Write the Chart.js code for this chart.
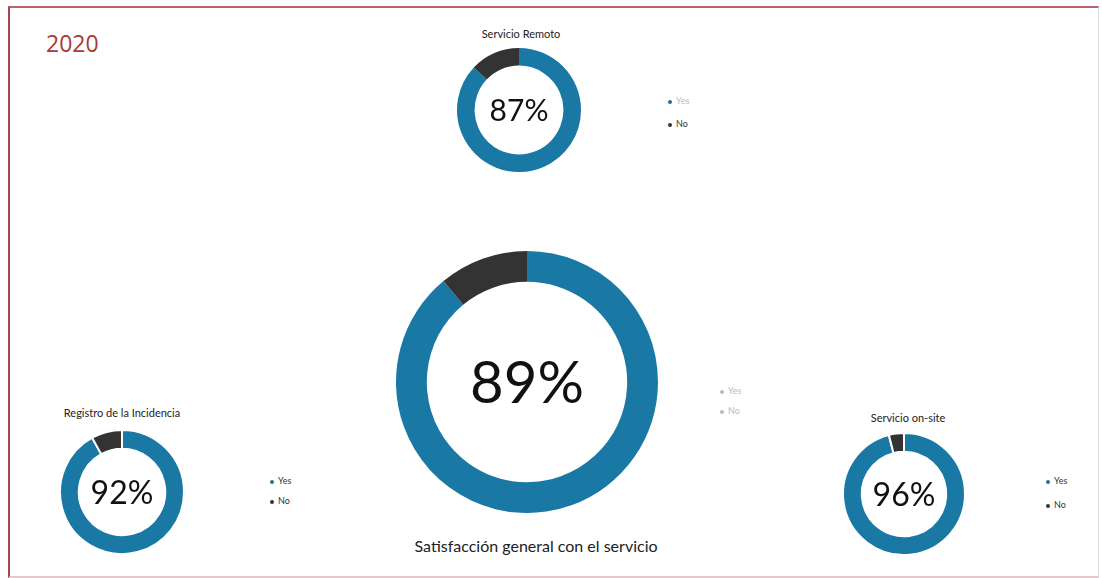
<!DOCTYPE html>
<html lang="es">
<head>
    <meta charset="UTF-8">
    <title>Satisfacción 2020</title>
    <script src="https://cdn.jsdelivr.net/npm/chart.js"></script>
    <style>
        body { margin: 0; background: #fff; font-family: 'Lato', sans-serif; }
        #page { position: relative; width: 1102px; height: 578px; overflow: hidden; background: #fff; }
        #frame { position: absolute; left: 8px; top: 6px; width: 1088px; height: 568px;
                 border-left: 2px solid #a64555; border-top: 2px solid #b8636f;
                 border-right: 1px solid #ddd; border-bottom: 2px solid #e6c9cd; }
        #year { position: absolute; left: 46px; top: 27px; font-family: 'Open Sans', sans-serif;
                font-size: 23px; color: #a63a3c; }
        .ring { position: absolute; }
        .title { position: absolute; transform: translate(-50%, -50%); white-space: nowrap; color: #222; }
        .legend { position: absolute; font-size: 9px; line-height: 9px; }
        .legend div { position: absolute; white-space: nowrap; }
        .legend span { display: inline-block; width: 4px; height: 4px; border-radius: 50%; margin-right: 4px; vertical-align: middle; }
    </style>
</head>
<body>
<div id="page">
    <div id="frame"></div>
    <div id="year">2020</div>
</div>

<script>
    // Data
    const categories = ['Yes', 'No'];
    const remotoValues = [87, 13];
    const generalValues = [89, 11];
    const registroValues = [92, 8];
    const onsiteValues = [96, 4];
    const titles = ['Servicio Remoto', 'Satisfacción general con el servicio', 'Registro de la Incidencia', 'Servicio on-site'];

    const BLUE = '#1a78a5';
    const DARK = '#333333';

    const page = document.getElementById('page');

    // draws the big percentage in the hole
    const centerText = {
        id: 'centerText',
        afterDraw(chart, args, opts) {
            const arc = chart.getDatasetMeta(0).data[0];
            const ctx = chart.ctx;
            ctx.save();
            ctx.font = opts.size + 'px Lato';
            ctx.fillStyle = '#111';
            ctx.textAlign = 'center';
            ctx.textBaseline = 'middle';
            ctx.fillText(chart.data.datasets[0].data[0] + '%', arc.x, arc.y + opts.size * 0.04);
            ctx.restore();
        }
    };

    function addRing(values, cx, cy, r, inner, border, textSize) {
        const size = r * 2 + 10;
        const c = document.createElement('canvas');
        c.className = 'ring';
        c.width = size; c.height = size;
        c.style.left = (cx - size / 2) + 'px';
        c.style.top = (cy - size / 2) + 'px';
        c.style.width = size + 'px';
        c.style.height = size + 'px';
        page.appendChild(c);
        new Chart(c, {
            type: 'doughnut',
            data: {
                labels: categories,
                datasets: [{
                    data: values,
                    backgroundColor: [BLUE, DARK],
                    borderColor: '#fff',
                    borderWidth: border,
                    hoverOffset: 0
                }]
            },
            options: {
                responsive: false,
                animation: false,
                radius: r,
                cutout: inner,
                layout: { padding: 0 },
                plugins: {
                    legend: { display: false },
                    tooltip: { enabled: false },
                    centerText: { size: textSize }
                }
            },
            plugins: [centerText]
        });
    }

    function addTitle(text, x, y, size) {
        const d = document.createElement('div');
        d.className = 'title';
        d.textContent = text;
        d.style.left = x + 'px';
        d.style.top = y + 'px';
        d.style.fontSize = size + 'px';
        page.appendChild(d);
    }

    function addLegend(x, y, gap, faded) {
        const l = document.createElement('div');
        l.className = 'legend';
        l.style.left = x + 'px';
        l.style.top = y + 'px';
        categories.forEach((name, i) => {
            const row = document.createElement('div');
            row.style.top = (i * gap) + 'px';
            const dot = document.createElement('span');
            dot.style.background = faded ? '#bbb' : (i === 0 ? '#2a6f8f' : '#333');
            row.appendChild(dot);
            row.appendChild(document.createTextNode(name));
            row.style.color = faded || (faded === null && i === 0) ? '#bbb' : '#333';
            l.appendChild(row);
        });
        page.appendChild(l);
    }

    addRing(remotoValues, 519, 110, 62, 48, 0, 30);
    addRing(generalValues, 527, 382, 131, 104, 0, 58);
    addRing(registroValues, 122, 492, 62, 46, 2, 32);
    addRing(onsiteValues, 904, 494, 61, 45, 2, 32);

    addTitle(titles[0], 521, 33, 11);
    addTitle(titles[1], 536, 545, 16);
    addTitle(titles[2], 122, 412, 11);
    addTitle(titles[3], 908, 417, 11);

    addLegend(668, 96, 23, null);
    addLegend(720, 386, 20, true);
    addLegend(270, 476, 20, false);
    addLegend(1046, 476, 24, false);
</script>
</body>
</html>
